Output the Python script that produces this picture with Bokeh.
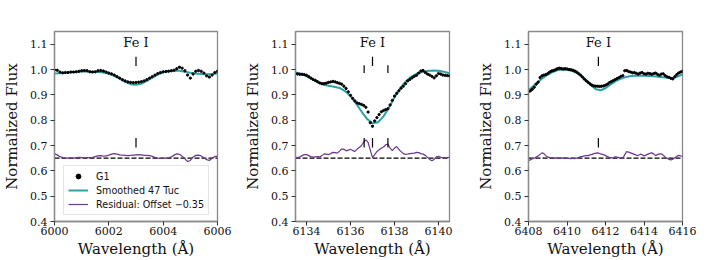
import numpy as np
from bokeh.plotting import figure
from bokeh.layouts import row
from bokeh.models import (FixedTicker, Legend, LegendItem, Range1d,
                          GlobalInlineStyleSheet, CustomJSTickFormatter)
from bokeh.core.properties import value
from bokeh.embed import file_html
from bokeh.resources import INLINE

# ---------------- Panel 1: Fe I 6003 ----------------
WL1 = np.round(np.linspace(6000.0, 6006.0, 61), 2)
FLUX1 = [0.998, 0.997, 0.990, 0.987, 0.988, 0.988, 0.990, 0.990, 0.991, 0.993,
         0.995, 0.996, 0.995, 0.991, 0.990, 0.991, 0.995, 0.996, 0.994, 0.990,
         0.986, 0.983, 0.978, 0.972, 0.966, 0.960, 0.955, 0.951, 0.949, 0.948,
         0.949, 0.950, 0.952, 0.955, 0.960, 0.966, 0.972, 0.978, 0.984, 0.988,
         0.991, 0.992, 0.993, 0.995, 0.997, 1.003, 1.009, 1.005, 0.995, 0.978,
         0.966, 0.982, 0.993, 0.996, 0.993, 0.986, 0.975, 0.970, 0.978, 0.988,
         0.993]
RESID1 = [0.667, 0.663, 0.656, 0.652, 0.650, 0.650, 0.651, 0.650, 0.652, 0.653,
          0.652, 0.651, 0.652, 0.652, 0.653, 0.656, 0.659, 0.660, 0.658, 0.659,
          0.662, 0.666, 0.668, 0.666, 0.663, 0.662, 0.661, 0.660, 0.661, 0.662,
          0.663, 0.664, 0.663, 0.661, 0.661, 0.660, 0.657, 0.653, 0.650, 0.649,
          0.649, 0.650, 0.651, 0.655, 0.662, 0.667, 0.665, 0.658, 0.647, 0.637,
          0.641, 0.655, 0.661, 0.662, 0.659, 0.652, 0.644, 0.641, 0.650, 0.656,
          0.658]
MWL1 = np.round(np.linspace(6000.0, 6006.0, 31), 2)
MODEL1 = [0.984, 0.985, 0.987, 0.989, 0.991, 0.992, 0.992, 0.991, 0.990, 0.988,
          0.983, 0.975, 0.964, 0.951, 0.942, 0.940, 0.944, 0.955, 0.968, 0.980,
          0.989, 0.994, 0.996, 0.995, 0.991, 0.987, 0.984, 0.982, 0.981, 0.982,
          0.984]
LINES1 = [6003.0]
MAIN1 = [True]

# ---------------- Panel 2: Fe I 6137 ----------------
WL2 = np.round(np.linspace(6133.5, 6140.5, 71), 2)
FLUX2 = [0.984, 0.982, 0.981, 0.981, 0.980, 0.977, 0.972, 0.966, 0.961, 0.957,
         0.952, 0.947, 0.944, 0.944, 0.946, 0.949, 0.951, 0.953, 0.951, 0.948,
         0.945, 0.942, 0.934, 0.925, 0.912, 0.898, 0.886, 0.876, 0.868, 0.865,
         0.862, 0.858, 0.851, 0.832, 0.790, 0.776, 0.797, 0.810, 0.822, 0.833,
         0.838, 0.842, 0.845, 0.860, 0.878, 0.895, 0.906, 0.916, 0.926, 0.934,
         0.944, 0.955, 0.961, 0.967, 0.973, 0.977, 0.986, 0.994, 0.996, 0.988,
         0.982, 0.978, 0.973, 0.967, 0.975, 0.984, 0.982, 0.978, 0.977, 0.976,
         0.975]
RESID2 = [0.653, 0.652, 0.655, 0.660, 0.664, 0.664, 0.660, 0.656, 0.654, 0.655,
          0.656, 0.655, 0.660, 0.667, 0.666, 0.664, 0.668, 0.673, 0.672, 0.670,
          0.678, 0.687, 0.685, 0.679, 0.682, 0.685, 0.680, 0.677, 0.686, 0.692,
          0.700, 0.714, 0.722, 0.712, 0.682, 0.652, 0.664, 0.676, 0.683, 0.689,
          0.694, 0.703, 0.706, 0.690, 0.680, 0.690, 0.696, 0.684, 0.676, 0.668,
          0.665, 0.666, 0.668, 0.669, 0.670, 0.673, 0.672, 0.668, 0.666, 0.661,
          0.653, 0.645, 0.640, 0.645, 0.655, 0.657, 0.653, 0.652, 0.651, 0.652,
          0.653]
MWL2 = np.round(np.linspace(6133.5, 6140.5, 29), 2)
MODEL2 = [0.988, 0.983, 0.974, 0.962, 0.950, 0.941, 0.936, 0.932, 0.927, 0.915,
          0.895, 0.866, 0.834, 0.805, 0.788, 0.792, 0.815, 0.850, 0.890, 0.925,
          0.952, 0.971, 0.983, 0.990, 0.994, 0.996, 0.995, 0.991, 0.985]
LINES2 = [6136.62, 6137.0, 6137.70]
MAIN2 = [False, True, False]

# ---------------- Panel 3: Fe I 6411.6 ----------------
WL3 = np.round(np.linspace(6408.0, 6416.0, 81), 2)
FLUX3 = [0.912, 0.916, 0.922, 0.930, 0.942, 0.950, 0.968, 0.975, 0.978, 0.980,
         0.984, 0.990, 0.994, 0.996, 0.999, 1.003, 1.005, 1.004, 1.002, 1.003,
         1.002, 1.000, 0.999, 0.997, 0.994, 0.990, 0.984, 0.978, 0.970, 0.962,
         0.955, 0.949, 0.943, 0.938, 0.935, 0.934, 0.934, 0.933, 0.934, 0.935,
         0.938, 0.942, 0.948, 0.952, 0.956, 0.960, 0.964, 0.968, 0.973, 0.976,
         0.995, 0.996, 0.992, 0.990, 0.987, 0.988, 0.985, 0.982, 0.986, 0.988,
         0.983, 0.982, 0.985, 0.984, 0.981, 0.984, 0.986, 0.981, 0.977, 0.982,
         0.983, 0.976, 0.971, 0.969, 0.965, 0.963, 0.972, 0.980, 0.986, 0.990,
         0.993]
RESID3 = [0.641, 0.643, 0.648, 0.650, 0.654, 0.658, 0.665, 0.671, 0.668, 0.660,
          0.655, 0.652, 0.651, 0.650, 0.651, 0.650, 0.649, 0.650, 0.651, 0.650,
          0.649, 0.649, 0.648, 0.650, 0.648, 0.650, 0.652, 0.656, 0.657, 0.659,
          0.660, 0.660, 0.663, 0.665, 0.668, 0.670, 0.671, 0.668, 0.666, 0.664,
          0.660, 0.656, 0.653, 0.651, 0.652, 0.655, 0.654, 0.652, 0.651, 0.650,
          0.664, 0.676, 0.674, 0.671, 0.668, 0.665, 0.662, 0.660, 0.666, 0.664,
          0.659, 0.662, 0.666, 0.669, 0.671, 0.667, 0.660, 0.664, 0.667, 0.667,
          0.662, 0.654, 0.650, 0.645, 0.643, 0.646, 0.652, 0.657, 0.661, 0.659,
          0.658]
MWL3 = np.round(np.linspace(6408.0, 6416.0, 33), 2)
MODEL3 = [0.918, 0.935, 0.952, 0.967, 0.980, 0.990, 0.997, 1.000, 0.999, 0.995,
          0.987, 0.975, 0.958, 0.938, 0.922, 0.918, 0.926, 0.940, 0.953, 0.962,
          0.969, 0.973, 0.975, 0.975, 0.975, 0.974, 0.973, 0.971, 0.969, 0.967,
          0.966, 0.972, 0.981]
LINES3 = [6411.63]
MAIN3 = [True]

YTICKS = [0.4, 0.5, 0.6, 0.7, 0.8, 0.9, 1.0, 1.1]
XTICKS1 = [6000, 6002, 6004, 6006]
XTICKS2 = [6134, 6136, 6138, 6140]
XTICKS3 = [6408, 6410, 6412, 6414, 6416]
OFFSET_LEVEL = 0.65
LINE_LABEL = "Fe I"

TEAL = "#2aa2a6"
PURPLE = "#6e3790"
FRAME = "#8a8a8a"
SERIF = "DejaVu Serif"


def panel(xlim, xticks, wl, flux, mwl, model, resid, lines, main,
          width, border_left, border_right, with_legend=False):
    p = figure(width=width, height=260, output_backend="svg",
               toolbar_location=None,
               x_range=Range1d(*xlim), y_range=Range1d(0.4, 1.15),
               min_border_left=border_left, min_border_right=border_right,
               min_border_top=31, min_border_bottom=39)
    p.grid.visible = False
    p.outline_line_color = FRAME
    p.outline_line_width = 1.3
    p.background_fill_color = "white"

    for ax in (p.xaxis[0], p.yaxis[0]):
        ax.axis_line_color = FRAME
        ax.axis_line_width = 1.3
        ax.major_tick_line_color = "#333333"
        ax.minor_tick_line_color = None
        ax.major_tick_out = 4
        ax.major_tick_in = 0
        ax.major_label_text_font = SERIF
        ax.major_label_text_font_size = "11px"
        ax.major_label_text_color = "#111111"
        ax.axis_label_text_font = SERIF
        ax.axis_label_text_font_size = "15px"
        ax.axis_label_text_font_style = "normal"
        ax.axis_label_text_color = "#111111"

    p.xaxis.ticker = FixedTicker(ticks=xticks)
    p.yaxis.ticker = FixedTicker(ticks=YTICKS)
    p.yaxis.formatter = CustomJSTickFormatter(code="return tick.toFixed(1);")
    p.xaxis.axis_label = "Wavelength (Å)"
    p.yaxis.axis_label = "Normalized Flux"
    p.xaxis.major_label_standoff = 1
    p.xaxis.axis_label_standoff = 2
    p.yaxis.major_label_standoff = 3
    p.yaxis.axis_label_standoff = 6

    # dashed zero-residual level
    p.line(x=list(xlim), y=[OFFSET_LEVEL, OFFSET_LEVEL], line_color="black",
           line_dash="5 2", line_width=1.4)

    r_model = p.line(x=mwl, y=model, line_color=TEAL, line_width=2.0)
    r_pts = p.scatter(x=wl, y=flux, size=2.3, marker="circle",
                      fill_color="black", line_color="black")
    r_res = p.line(x=wl, y=resid, line_color=PURPLE, line_width=1.2)

    # line identification marks
    y0 = [1.014 if m else 0.986 for m in main]
    y1 = [1.050 if m else 1.017 for m in main]
    p.segment(x0=lines, x1=lines, y0=y0, y1=y1, line_color="black",
              line_width=1.2)
    p.segment(x0=lines, x1=lines, y0=[0.692] * len(lines),
              y1=[0.730] * len(lines), line_color="black", line_width=1.2)
    main_x = [x for x, m in zip(lines, main) if m]
    p.text(x=main_x, y=[1.078], text=[LINE_LABEL], text_font=value(SERIF),
           text_font_size="13px", text_align="center",
           text_baseline="bottom", text_color="#111111")

    if with_legend:
        leg = Legend(items=[LegendItem(label="G1", renderers=[r_pts]),
                            LegendItem(label="Smoothed 47 Tuc",
                                       renderers=[r_model]),
                            LegendItem(label="Residual: Offset \u22120.35",
                                       renderers=[r_res])],
                     location=(9, 6))
        leg.label_text_font = "DejaVu Sans"
        leg.label_text_font_size = "9.6px"
        leg.label_text_color = "#111111"
        leg.glyph_width = 20
        leg.glyph_height = 12
        leg.label_height = 12
        leg.label_standoff = 8
        leg.spacing = 2
        leg.padding = 4
        leg.margin = 0
        leg.border_line_color = "#cccccc"
        leg.border_line_width = 1
        leg.background_fill_alpha = 0.85
        p.add_layout(leg)
    return p


p1 = panel((6000, 6006), XTICKS1, WL1, FLUX1, MWL1, MODEL1, RESID1,
           LINES1, MAIN1, 241, 53, 24, with_legend=True)
p2 = panel((6133.5, 6140.5), XTICKS2, WL2, FLUX2, MWL2, MODEL2, RESID2,
           LINES2, MAIN2, 233, 45, 25)
p3 = panel((6408, 6416), XTICKS3, WL3, FLUX3, MWL3, MODEL3, RESID3,
           LINES3, MAIN3, 224, 45, 16)

layout = row(p1, p2, p3, spacing=0,
             stylesheets=[GlobalInlineStyleSheet(
                 css="html, body { overflow: hidden; margin: 0; }")])

open("out.html", "w").write(file_html(layout, INLINE))
